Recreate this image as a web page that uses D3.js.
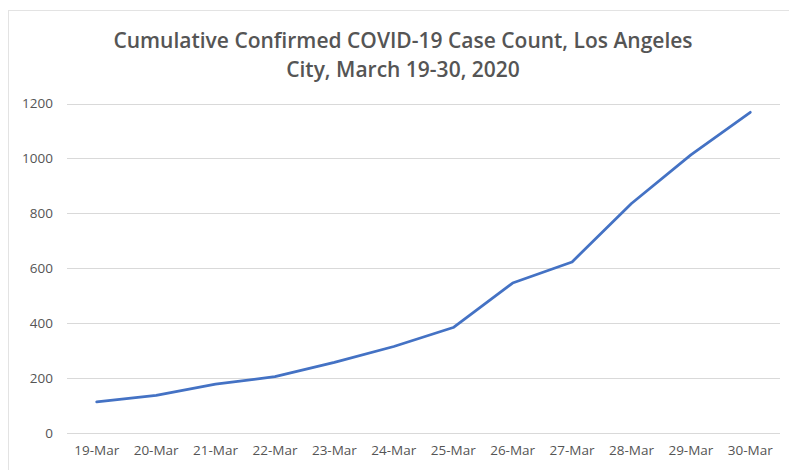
<!DOCTYPE html>
<html><head><meta charset="utf-8">
<script src="https://cdn.jsdelivr.net/npm/d3@7"></script>
<style>html,body{margin:0;padding:0;background:#fff;}svg{display:block;}</style>
</head><body>
<script>
const categories = ["19-Mar","20-Mar","21-Mar","22-Mar","23-Mar","24-Mar","25-Mar","26-Mar","27-Mar","28-Mar","29-Mar","30-Mar"];
const cases = [113, 137, 178, 205, 257, 315, 384, 546, 623, 836, 1013, 1168];
const yTicks = [0, 200, 400, 600, 800, 1000, 1200];
const titleLines = ["Cumulative Confirmed COVID-19 Case Count, Los Angeles", "City, March 19-30, 2020"];

const W = 789, H = 470;
const svg = d3.select("body").append("svg").attr("width", W).attr("height", H);
const font = "'Open Sans', 'Liberation Sans', sans-serif";

svg.append("rect").attr("x", 8.5).attr("y", 10.5).attr("width", W + 10).attr("height", H + 10)
  .attr("fill", "#fff").attr("stroke", "#e3e3e3");

const m = {left: 67, right: 9, top: 104, bottom: 37};
const x = d3.scaleBand().domain(categories).range([m.left, W - m.right]);
const y = d3.scaleLinear().domain([0, 1200]).range([433, 103.5]);

// gridlines
svg.append("g").selectAll("line").data(yTicks).join("line")
  .attr("x1", m.left).attr("x2", W - m.right)
  .attr("y1", d => Math.round(y(d)) + 0.5).attr("y2", d => Math.round(y(d)) + 0.5)
  .attr("stroke", "#d9d9d9").attr("stroke-width", 1);

// y axis labels
const yAxis = d3.axisLeft(y).tickValues(yTicks).tickFormat(d3.format("d")).tickSize(0).tickPadding(0);
const gy = svg.append("g").attr("transform", `translate(53,0)`).call(yAxis);
gy.select(".domain").remove();
gy.selectAll("text").attr("font-family", font).attr("font-size", 13.5).attr("fill", "#555");

// x axis labels
const xAxis = d3.axisBottom(x).tickSize(0).tickPadding(0);
const gx = svg.append("g").attr("transform", `translate(0,445)`).call(xAxis);
gx.select(".domain").remove();
gx.selectAll("text").attr("font-family", font).attr("font-size", 13.5).attr("fill", "#555");

// line
const line = d3.line().x((d, i) => x(categories[i]) + x.bandwidth() / 2).y(d => y(d));
svg.append("path").datum(cases).attr("d", line)
  .attr("fill", "none").attr("stroke", "#4472c4").attr("stroke-width", 2.75)
  .attr("stroke-linejoin", "round").attr("stroke-linecap", "round");

// title
svg.append("g").selectAll("text").data(titleLines).join("text")
  .attr("x", 403).attr("y", (d, i) => 48 + i * 29)
  .attr("text-anchor", "middle")
  .attr("font-family", font).attr("font-size", 21).attr("font-weight", 600).attr("fill", "#555")
  .text(d => d);
</script>
</body></html>
